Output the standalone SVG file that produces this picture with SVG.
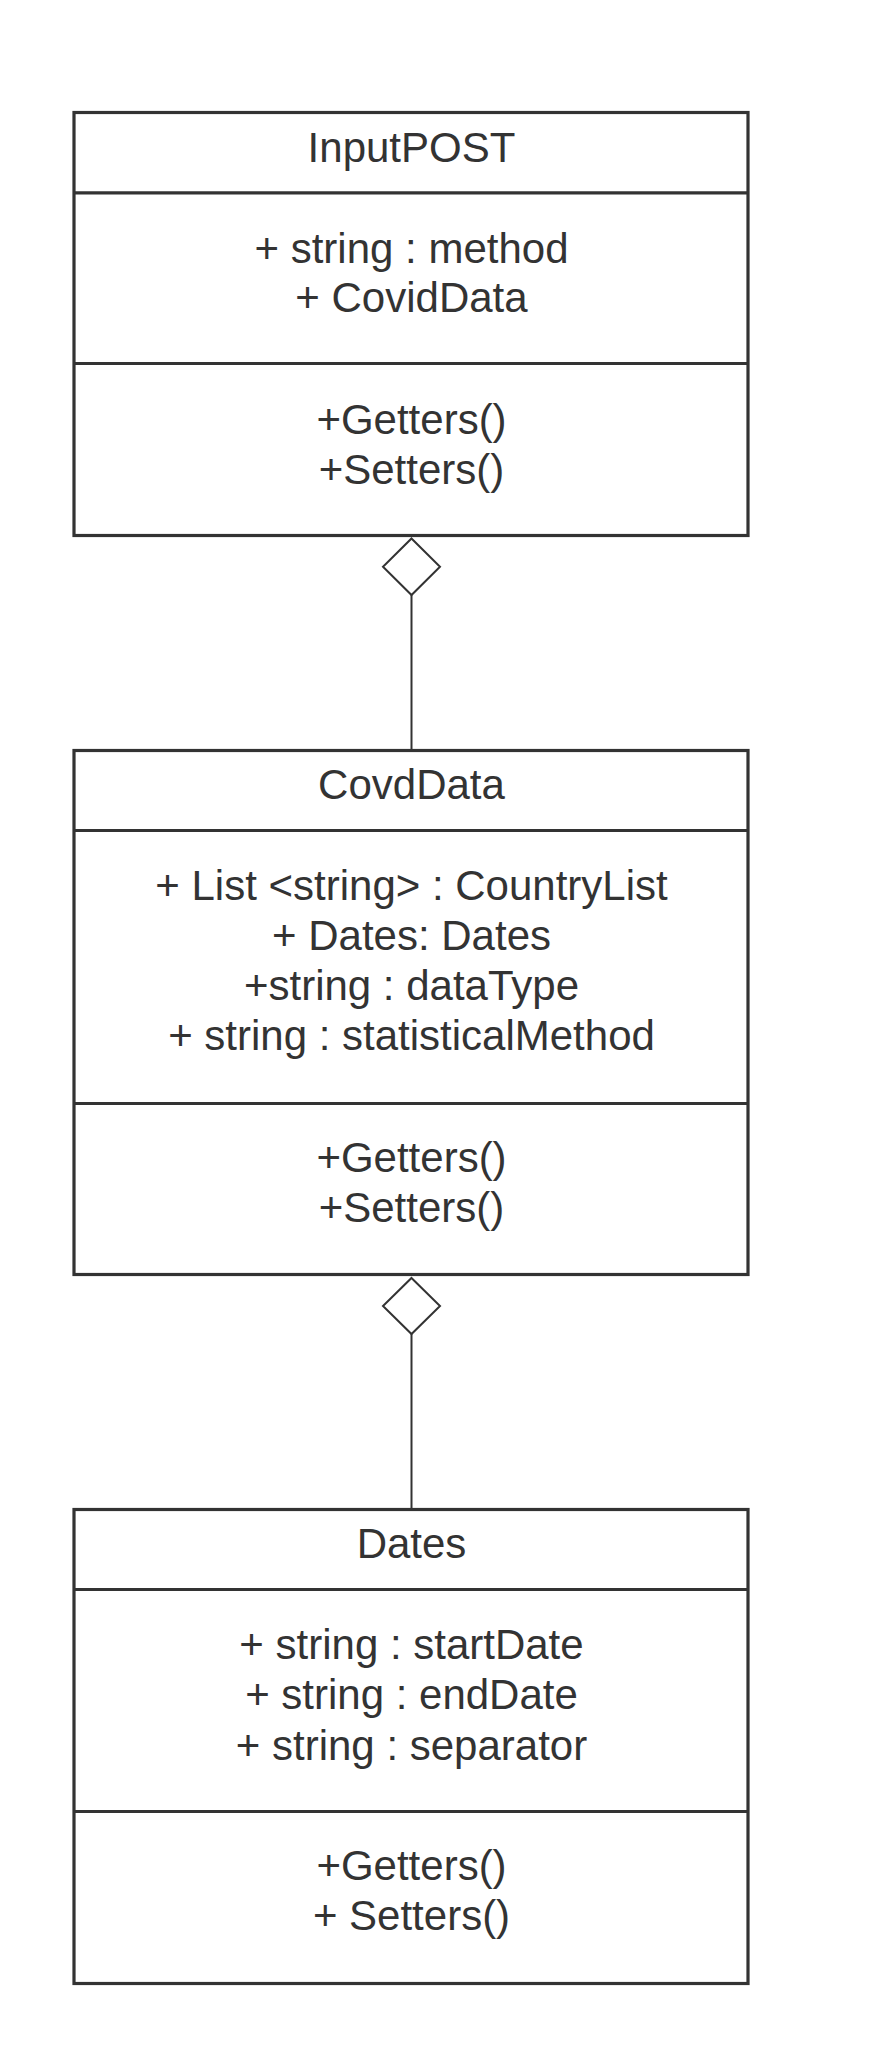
<svg xmlns="http://www.w3.org/2000/svg" width="887" height="2059" viewBox="0 0 887 2059">
<style>
.box{fill:#ffffff;stroke:#333333;stroke-width:3.2}
.div{stroke:#333333;stroke-width:3.2}
.t{font-family:"Liberation Sans",Arial,sans-serif;font-size:42px;fill:#333333;text-anchor:middle}
.conn{stroke:#333333;stroke-width:2;fill:none}
.dia{fill:#ffffff;stroke:#333333;stroke-width:2}
</style>
<rect width="887" height="2059" fill="#ffffff"/>
<g id="connectors">
<line class="conn" x1="411.5" y1="595" x2="411.5" y2="750"/>
<polygon class="dia" points="411.5,538.5 440,566.8 411.5,595 383,566.8"/>
<line class="conn" x1="411.5" y1="1334" x2="411.5" y2="1509"/>
<polygon class="dia" points="411.5,1278 440,1306 411.5,1334 383,1306"/>
</g>
<g id="InputPOST">
<rect class="box" x="74" y="112.5" width="674" height="423"/>
<line class="div" x1="74" y1="192.8" x2="748" y2="192.8"/>
<line class="div" x1="74" y1="363.5" x2="748" y2="363.5"/>
<text class="t" x="411.5" y="161.5">InputPOST</text>
<text class="t" x="411.5" y="262.5">+ string : method</text>
<text class="t" x="411.5" y="312">+ CovidData</text>
<text class="t" x="411.5" y="433.5">+Getters()</text>
<text class="t" x="411.5" y="483.5">+Setters()</text>
</g>
<g id="CovdData">
<rect class="box" x="74" y="750.5" width="674" height="524"/>
<line class="div" x1="74" y1="830.5" x2="748" y2="830.5"/>
<line class="div" x1="74" y1="1103.5" x2="748" y2="1103.5"/>
<text class="t" x="411.5" y="798.5">CovdData</text>
<text class="t" x="411.5" y="899.5">+ List &lt;string&gt; : CountryList</text>
<text class="t" x="411.5" y="949.5">+ Dates: Dates</text>
<text class="t" x="411.5" y="1000">+string : dataType</text>
<text class="t" x="411.5" y="1050">+ string : statisticalMethod</text>
<text class="t" x="411.5" y="1171.5">+Getters()</text>
<text class="t" x="411.5" y="1222">+Setters()</text>
</g>
<g id="Dates">
<rect class="box" x="74" y="1509.5" width="674" height="474"/>
<line class="div" x1="74" y1="1589.5" x2="748" y2="1589.5"/>
<line class="div" x1="74" y1="1811.5" x2="748" y2="1811.5"/>
<text class="t" x="411.5" y="1557.5">Dates</text>
<text class="t" x="411.5" y="1658.5">+ string : startDate</text>
<text class="t" x="411.5" y="1709">+ string : endDate</text>
<text class="t" x="411.5" y="1759.5">+ string : separator</text>
<text class="t" x="411.5" y="1880">+Getters()</text>
<text class="t" x="411.5" y="1930">+ Setters()</text>
</g>
</svg>
